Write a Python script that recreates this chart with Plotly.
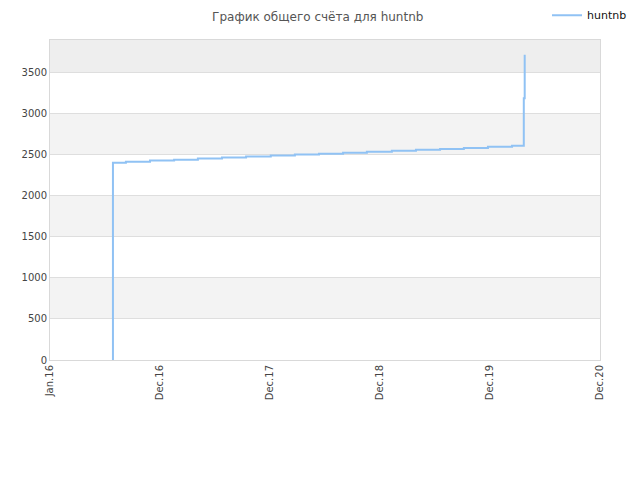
import plotly.graph_objects as go

# score history for huntnb (step chart)
dates = ["2016-07-28", "2016-07-28", "2016-09-09", "2016-11-28", "2017-02-16",
         "2017-05-06", "2017-07-25", "2017-10-13", "2018-01-03", "2018-03-24",
         "2018-06-12", "2018-08-31", "2018-11-18", "2019-02-09", "2019-04-30",
         "2019-07-19", "2019-10-06", "2019-12-25", "2020-03-14", "2020-04-22",
         "2020-04-25"]
scores = [0, 2405, 2417, 2430, 2442, 2455, 2467, 2479, 2491, 2504,
          2514, 2525, 2537, 2549, 2561, 2573, 2585, 2598, 2612, 3190,
          3720]

tick_dates = ["2016-01-01", "2016-12-31", "2017-12-31", "2018-12-31",
              "2019-12-31", "2020-12-30"]
tick_labels = ["Jan.16", "Dec.16", "Dec.17", "Dec.18", "Dec.19", "Dec.20"]

band_edges = [500, 1000, 1500, 2000, 2500, 3000, 3500, 3900]

fig = go.Figure()
fig.add_trace(go.Scatter(x=dates, y=scores, mode="lines", name="huntnb",
                         line=dict(color="#90c2f4", width=2, shape="hv")))

# alternating grey bands behind the plot
shapes = []
for i in range(0, len(band_edges) - 1, 2):
    col = "#eeeeee" if band_edges[i] >= 3500 else "#f3f3f3"
    shapes.append(dict(type="rect", xref="paper", yref="y", x0=0, x1=1,
                       y0=band_edges[i], y1=band_edges[i + 1],
                       fillcolor=col, line_width=0, layer="below"))

# page body has an 8px offset, so margins are shifted to compensate
fig.update_layout(
    width=640, height=480,
    margin=dict(l=42, r=48, t=32, b=128, autoexpand=False),
    paper_bgcolor="white", plot_bgcolor="white",
    font=dict(family="DejaVu Sans", size=10, color="#444"),
    title=dict(text="График общего счёта для huntnb", x=0.484, y=0.982,
               xanchor="center", yanchor="middle",
               font=dict(size=12, color="#555")),
    showlegend=True,
    legend=dict(x=0.975, y=0.985, xanchor="right", yanchor="middle",
                xref="container", yref="container", bgcolor="rgba(0,0,0,0)",
                itemwidth=30, font=dict(size=11, color="#111")),
    shapes=shapes,
)
fig.update_xaxes(type="date", range=["2016-01-01", "2020-12-31"],
                 tickvals=tick_dates, ticktext=tick_labels, tickangle=-90,
                 showgrid=False, showline=True, mirror=True, automargin=False,
                 linecolor="#d9d9d9", linewidth=1, ticks="",
                 tickfont=dict(size=10, color="#444"))
fig.update_yaxes(range=[0, 3900], tickvals=[0, 500, 1000, 1500, 2000, 2500, 3000, 3500],
                 showgrid=True, gridcolor="#dedede", zeroline=False, automargin=False,
                 showline=True, mirror=True, linecolor="#d9d9d9", linewidth=1,
                 tickfont=dict(size=10, color="#444"), ticks="")

fig.write_html("out.html")
